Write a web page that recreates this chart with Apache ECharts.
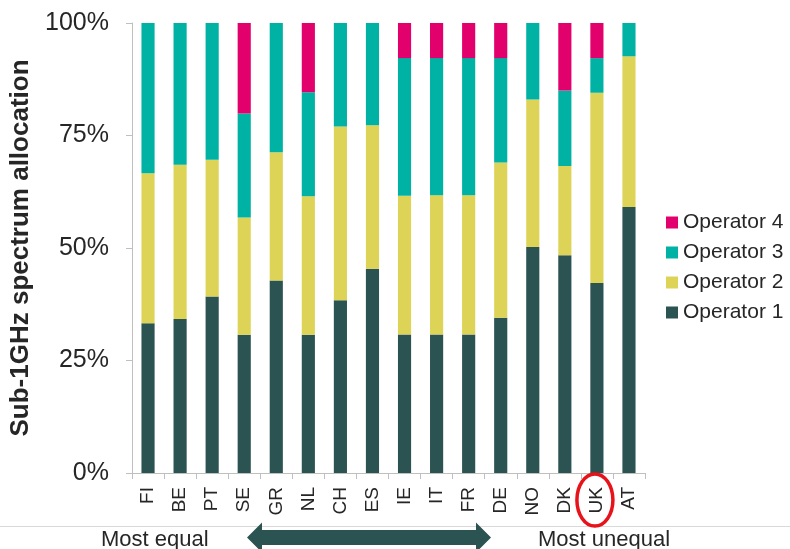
<!DOCTYPE html>
<html>
<head>
<meta charset="utf-8">
<script src="https://cdn.jsdelivr.net/npm/echarts@6/dist/echarts.min.js"></script>
<style>
  html, body { margin: 0; padding: 0; background: #fff; }
  #chart { width: 790px; height: 549px; }
</style>
</head>
<body>
<div id="chart"></div>
<script>
// Countries, ordered from most equal to most unequal sub-1GHz holdings
const countries = ['FI','BE','PT','SE','GR','NL','CH','ES','IE','IT','FR','DE','NO','DK','UK','AT'];

// Share of sub-1GHz spectrum held by each operator (%)
const operator1 = [33.3, 34.2, 39.2, 30.7, 42.8, 30.7, 38.4, 45.4, 30.8, 30.8, 30.8, 34.5, 50.2, 48.4, 42.2, 59.1];
const operator2 = [33.3, 34.3, 30.4, 26.1, 28.5, 30.8, 38.6, 31.9, 30.8, 30.9, 30.9, 34.5, 32.8, 19.8, 42.3, 33.5];
const operator3 = [33.4, 31.5, 30.4, 23.1, 28.7, 23.1, 23.0, 22.7, 30.6, 30.5, 30.5, 23.2, 17.0, 16.8,  7.7,  7.4];
const operator4 = [ 0.0,  0.0,  0.0, 20.1,  0.0, 15.4,  0.0,  0.0,  7.8,  7.8,  7.8,  7.8,  0.0, 15.0,  7.8,  0.0];

const seriesNames = ['Operator 1', 'Operator 2', 'Operator 3', 'Operator 4'];
const seriesValues = [operator1, operator2, operator3, operator4];
const seriesColors = ['#2b5352', '#ddd457', '#00b2a4', '#e2006c'];

const yTicks = [0, 25, 50, 75, 100];
const highlighted = 'UK';

const textColor = '#262626';
const axisGray = '#bfbfbf';
const fontFamily = 'Liberation Sans, Arial, sans-serif';

const chart = echarts.init(document.getElementById('chart'), null, { renderer: 'canvas' });

const option = {
  animation: false,
  backgroundColor: '#ffffff',
  textStyle: { fontFamily: fontFamily, color: textColor },
  grid: { left: 132, right: 145, top: 23, bottom: 76, outerBoundsMode: 'none' },
  legend: {
    orient: 'vertical',
    left: 661,
    top: 207,
    data: seriesNames.slice().reverse(),
    icon: 'rect',
    itemWidth: 12,
    itemHeight: 12,
    itemGap: 9,
    textStyle: { fontSize: 21, color: textColor, lineHeight: 21 },
    selectedMode: false
  },
  xAxis: {
    type: 'category',
    data: countries,
    axisLine: { lineStyle: { color: axisGray, width: 1 } },
    axisTick: { show: true, length: 6, lineStyle: { color: axisGray } },
    axisLabel: { rotate: 90, fontSize: 19, color: textColor, margin: 14, interval: 0 }
  },
  yAxis: {
    type: 'value',
    min: yTicks[0],
    max: yTicks[yTicks.length - 1],
    interval: yTicks[1] - yTicks[0],
    name: 'Sub-1GHz spectrum allocation',
    nameLocation: 'middle',
    nameGap: 97,
    nameTextStyle: { fontSize: 26, fontWeight: 'bold', color: textColor },
    axisLine: { show: true, lineStyle: { color: axisGray, width: 1 } },
    axisTick: { show: true, length: 6, lineStyle: { color: axisGray } },
    splitLine: { show: false },
    axisLabel: { fontSize: 25, color: textColor, margin: 23, formatter: '{value}%' }
  },
  series: seriesNames.map((name, i) => ({
    name: name,
    type: 'bar',
    stack: 'total',
    barWidth: '41%',
    itemStyle: { color: seriesColors[i] },
    data: seriesValues[i]
  }))
};

chart.setOption(option);

// Annotations: ring around the highlighted country, separator, arrow and captions
const ukX = chart.convertToPixel({ xAxisIndex: 0 }, highlighted);
const arrowY = 537.5;
const arrowLeft = 247, arrowRight = 491, headLen = 15, headHalf = 15, shaftHalf = 7.5;

chart.setOption({
  graphic: [
    {
      type: 'line',
      shape: { x1: 0, y1: 526.5, x2: 790, y2: 526.5 },
      style: { stroke: '#d9d9d9', lineWidth: 1 }
    },
    {
      type: 'ellipse',
      shape: { cx: ukX - 2, cy: 500, rx: 18, ry: 26 },
      style: { fill: 'none', stroke: '#e8121b', lineWidth: 3.5 },
      z: 100
    },
    {
      type: 'polygon',
      shape: {
        points: [
          [arrowLeft, arrowY],
          [arrowLeft + headLen, arrowY - headHalf],
          [arrowLeft + headLen, arrowY - shaftHalf],
          [arrowRight - headLen, arrowY - shaftHalf],
          [arrowRight - headLen, arrowY - headHalf],
          [arrowRight, arrowY],
          [arrowRight - headLen, arrowY + headHalf],
          [arrowRight - headLen, arrowY + shaftHalf],
          [arrowLeft + headLen, arrowY + shaftHalf],
          [arrowLeft + headLen, arrowY + headHalf]
        ]
      },
      style: { fill: '#2b5352' },
      z: 10
    },
    {
      type: 'text',
      x: 101,
      y: 529,
      style: { text: 'Most equal', fontSize: 22, fill: textColor, fontFamily: fontFamily }
    },
    {
      type: 'text',
      x: 538,
      y: 529,
      style: { text: 'Most unequal', fontSize: 22, fill: textColor, fontFamily: fontFamily }
    }
  ]
});
</script>
</body>
</html>
